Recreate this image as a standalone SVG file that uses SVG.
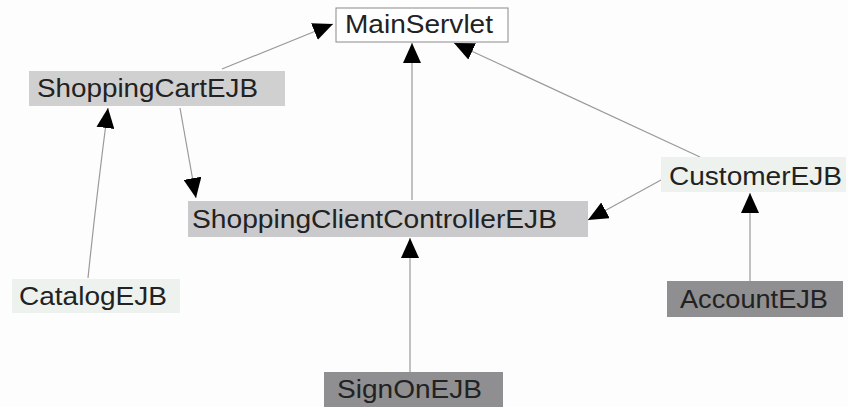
<svg xmlns="http://www.w3.org/2000/svg" width="848" height="407" viewBox="0 0 848 407">
<style>
text{font-family:"Liberation Sans",Arial,sans-serif;font-size:26px;fill:#222}
.c{stroke:#9a9a9a;stroke-width:1.2;fill:none;marker-end:url(#ah)}
</style>
<defs>
<marker id="ah" markerUnits="userSpaceOnUse" markerWidth="20" markerHeight="18" refX="20" refY="9" orient="auto" viewBox="0 0 20 18">
<path d="M0,0 L20,9 L0,18 z" fill="#000"/>
</marker>
</defs>
<rect width="848" height="407" fill="#fdfdfd"/>
<g id="connectors">
<line class="c" x1="222" y1="69" x2="333" y2="24"/>
<line class="c" x1="412" y1="200" x2="412" y2="43"/>
<line class="c" x1="700" y1="157" x2="454" y2="43"/>
<line class="c" x1="180" y1="108" x2="196" y2="198"/>
<line class="c" x1="661" y1="180" x2="588" y2="220"/>
<path class="c" d="M88,278 Q96,200 108,108"/>
<line class="c" x1="410" y1="372" x2="410" y2="238"/>
<line class="c" x1="750" y1="281" x2="750" y2="193"/>
</g>
<g id="MainServlet">
<rect x="336" y="8" width="172" height="34" fill="#fff" stroke="#8a8a8a" stroke-width="1"/>
<text x="345" y="33" textLength="148" lengthAdjust="spacingAndGlyphs">MainServlet</text>
</g>
<g id="ShoppingCartEJB">
<rect x="29" y="71" width="256" height="35" fill="#d0d0d0"/>
<text x="37" y="97" textLength="221" lengthAdjust="spacingAndGlyphs">ShoppingCartEJB</text>
</g>
<g id="ShoppingClientControllerEJB">
<rect x="188" y="201" width="400" height="36" fill="#cacacd"/>
<text x="192" y="228" textLength="365" lengthAdjust="spacingAndGlyphs">ShoppingClientControllerEJB</text>
</g>
<g id="CustomerEJB">
<rect x="661" y="157" width="185" height="35" fill="#eef2ee"/>
<text x="669" y="185" textLength="173" lengthAdjust="spacingAndGlyphs">CustomerEJB</text>
</g>
<g id="CatalogEJB">
<rect x="12" y="279" width="168" height="34" fill="#eef2ee"/>
<text x="19" y="305" textLength="148" lengthAdjust="spacingAndGlyphs">CatalogEJB</text>
</g>
<g id="AccountEJB">
<rect x="667" y="281" width="176" height="36" fill="#8f8f91"/>
<text x="680" y="308" textLength="148" lengthAdjust="spacingAndGlyphs">AccountEJB</text>
</g>
<g id="SignOnEJB">
<rect x="324" y="372" width="179" height="35" fill="#8f8f91"/>
<text x="337" y="398" textLength="145" lengthAdjust="spacingAndGlyphs">SignOnEJB</text>
</g>
</svg>
